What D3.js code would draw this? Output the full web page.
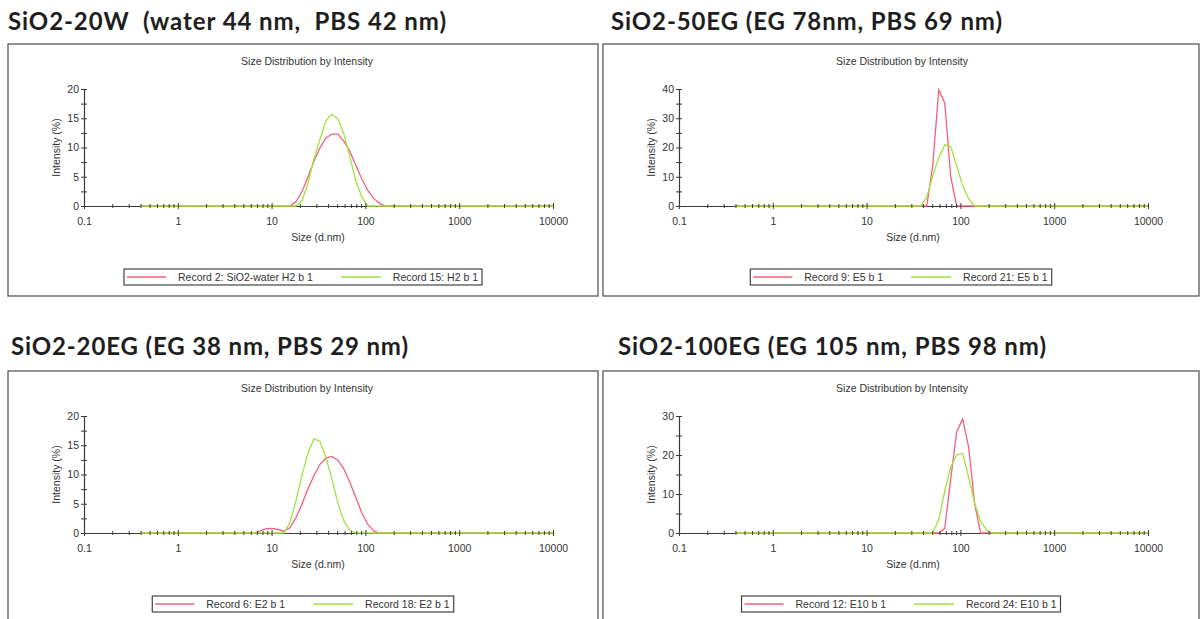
<!DOCTYPE html>
<html>
<head>
<meta charset="utf-8">
<script src="https://cdn.jsdelivr.net/npm/d3@7"></script>
<style>
  html, body { margin: 0; padding: 0; background: #fff; }
  svg { display: block; }
  .title { font-family: Lato, "Open Sans", sans-serif; font-weight: 700; font-size: 24px; fill: #1e1e1e; white-space: pre; }
  .small { font-family: "Liberation Sans", Arial, sans-serif; font-size: 10.5px; fill: #333; }
</style>
</head>
<body>
<svg id="chart" width="1201" height="619"></svg>
<script>
// Zetasizer size classes, d.nm
const sizeBins = [
  0.4, 0.4632, 0.5365, 0.6213, 0.7195, 0.8332, 0.9649, 1.117, 1.294, 1.499,
  1.736, 2.010, 2.328, 2.696, 3.122, 3.615, 4.187, 4.849, 5.615, 6.503,
  7.531, 8.721, 10.10, 11.70, 13.54, 15.69, 18.17, 21.04, 24.36, 28.21,
  32.67, 37.84, 43.82, 50.75, 58.77, 68.06, 78.82, 91.28, 105.7, 122.4,
  141.8, 164.2, 190.1, 220.2, 255.0, 295.3, 342.0, 396.1, 458.7, 531.2,
  615.1, 712.4, 825.0, 955.4, 1106, 1281, 1484, 1718, 1990, 2305,
  2669, 3091, 3580, 4145, 4801, 5560, 6439, 7456, 8635, 10000
];

// Intensity (%) in each size class
const record2 = [
  0, 0, 0, 0, 0, 0, 0, 0, 0, 0,
  0, 0, 0, 0, 0, 0, 0, 0, 0, 0,
  0, 0, 0, 0, 0, 0, 0.7, 2.4, 4.9, 7.6,
  9.9, 11.6, 12.3, 12.3, 11.1, 9.4, 7.0, 4.7, 2.7, 1.3,
  0.45, 0, 0, 0, 0, 0, 0, 0, 0, 0,
  0, 0, 0, 0, 0, 0, 0, 0, 0, 0,
  0, 0, 0, 0, 0, 0, 0, 0, 0, 0
];
const record15 = [
  0, 0, 0, 0, 0, 0, 0, 0, 0, 0,
  0, 0, 0, 0, 0, 0, 0, 0, 0, 0,
  0, 0, 0, 0, 0, 0, 0, 0.8, 3.8, 8.0,
  11.3, 14.5, 15.7, 14.9, 12.4, 8.5, 4.4, 1.6, 0, 0,
  0, 0, 0, 0, 0, 0, 0, 0, 0, 0,
  0, 0, 0, 0, 0, 0, 0, 0, 0, 0,
  0, 0, 0, 0, 0, 0, 0, 0, 0, 0
];
const record9 = [
  0, 0, 0, 0, 0, 0, 0, 0, 0, 0,
  0, 0, 0, 0, 0, 0, 0, 0, 0, 0,
  0, 0, 0, 0, 0, 0, 0, 0, 0, 0,
  0, 0, 0, 14.0, 39.7, 35.2, 10.0, 0, 0, 0,
  0, 0, 0, 0, 0, 0, 0, 0, 0, 0,
  0, 0, 0, 0, 0, 0, 0, 0, 0, 0,
  0, 0, 0, 0, 0, 0, 0, 0, 0, 0
];
const record21 = [
  0, 0, 0, 0, 0, 0, 0, 0, 0, 0,
  0, 0, 0, 0, 0, 0, 0, 0, 0, 0,
  0, 0, 0, 0, 0, 0, 0, 0, 0, 0,
  0, 0, 3.0, 10.4, 16.6, 20.9, 20.3, 13.8, 6.9, 2.4,
  0, 0, 0, 0, 0, 0, 0, 0, 0, 0,
  0, 0, 0, 0, 0, 0, 0, 0, 0, 0,
  0, 0, 0, 0, 0, 0, 0, 0, 0, 0
];
const record6 = [
  0, 0, 0, 0, 0, 0, 0, 0, 0, 0,
  0, 0, 0, 0, 0, 0, 0, 0, 0, 0,
  0.35, 0.75, 0.8, 0.6, 0.3, 0.9, 2.6, 4.9, 7.5, 9.8,
  11.7, 12.8, 13.1, 12.5, 11.0, 8.7, 6.1, 3.5, 1.5, 0.35,
  0, 0, 0, 0, 0, 0, 0, 0, 0, 0,
  0, 0, 0, 0, 0, 0, 0, 0, 0, 0,
  0, 0, 0, 0, 0, 0, 0, 0, 0, 0
];
const record18 = [
  0, 0, 0, 0, 0, 0, 0, 0, 0, 0,
  0, 0, 0, 0, 0, 0, 0, 0, 0, 0,
  0, 0, 0, 0, 0, 1.8, 5.5, 9.8, 13.6, 16.1,
  15.7, 13.0, 9.3, 5.2, 2.1, 0.5, 0, 0, 0, 0,
  0, 0, 0, 0, 0, 0, 0, 0, 0, 0,
  0, 0, 0, 0, 0, 0, 0, 0, 0, 0,
  0, 0, 0, 0, 0, 0, 0, 0, 0, 0
];
const record12 = [
  0, 0, 0, 0, 0, 0, 0, 0, 0, 0,
  0, 0, 0, 0, 0, 0, 0, 0, 0, 0,
  0, 0, 0, 0, 0, 0, 0, 0, 0, 0,
  0, 0, 0, 0, 0, 1.2, 13.8, 26.0, 29.2, 22.0,
  7.5, 0, 0, 0, 0, 0, 0, 0, 0, 0,
  0, 0, 0, 0, 0, 0, 0, 0, 0, 0,
  0, 0, 0, 0, 0, 0, 0, 0, 0, 0
];
const record24 = [
  0, 0, 0, 0, 0, 0, 0, 0, 0, 0,
  0, 0, 0, 0, 0, 0, 0, 0, 0, 0,
  0, 0, 0, 0, 0, 0, 0, 0, 0, 0,
  0, 0, 0, 0, 3.4, 10.8, 16.9, 20.0, 20.4, 14.3,
  7.7, 3.0, 0.8, 0, 0, 0, 0, 0, 0, 0,
  0, 0, 0, 0, 0, 0, 0, 0, 0, 0,
  0, 0, 0, 0, 0, 0, 0, 0, 0, 0
];

const panelTitles = [
  "SiO2-20W  (water 44 nm,  PBS 42 nm)",
  "SiO2-50EG (EG 78nm, PBS 69 nm)",
  "SiO2-20EG (EG 38 nm, PBS 29 nm)",
  "SiO2-100EG (EG 105 nm, PBS 98 nm)"
];
const redLabels = ["Record 2: SiO2-water H2 b 1", "Record 9: E5 b 1", "Record 6: E2 b 1", "Record 12: E10 b 1"];
const greenLabels = ["Record 15: H2 b 1", "Record 21: E5 b 1", "Record 18: E2 b 1", "Record 24: E10 b 1"];
const redSeries = [record2, record9, record6, record12];
const greenSeries = [record15, record21, record18, record24];
const yMaxima = [20, 40, 20, 30];
const yLabelSteps = [5, 10, 5, 10];
const xTickValues = [0.1, 1, 10, 100, 1000, 10000];
const chartTitle = "Size Distribution by Intensity";
const xAxisTitle = "Size (d.nm)";
const yAxisTitle = "Intensity (%)";

const RED = "#f0607c";
const GREEN = "#a3e13d";
const AXIS = "#3a3a3a";

// layout of the four boxes
const layouts = [
  { left: 8,   top: 44,  width: 590, height: 252, titleX: 8,   titleY: 30,  titleW: 438 },
  { left: 603, top: 44,  width: 596, height: 252, titleX: 611, titleY: 30,  titleW: 391 },
  { left: 8,   top: 371, width: 590, height: 300, titleX: 11,  titleY: 355, titleW: 397 },
  { left: 603, top: 371, width: 596, height: 300, titleX: 618, titleY: 355, titleW: 428 }
];

const svg = d3.select("#chart");

// minor log ticks, 2..9 in every decade
const xMinor = [];
[0.1, 1, 10, 100, 1000].forEach(d => { for (let m = 2; m <= 9; m++) xMinor.push(+(d * m).toPrecision(3)); });

layouts.forEach((L, i) => {
  const g = svg.append("g");

  // heading above the box
  g.append("text").attr("class", "title")
    .attr("x", L.titleX).attr("y", L.titleY)
    .attr("textLength", L.titleW).attr("lengthAdjust", "spacing")
    .text(panelTitles[i]);

  // frame
  g.append("rect")
    .attr("x", L.left).attr("y", L.top)
    .attr("width", L.width).attr("height", L.height)
    .attr("fill", "none").attr("stroke", "#5a5a5a").attr("stroke-width", 1.3);

  const plotLeft = L.left + 76;
  const plotRight = plotLeft + 469;
  const yTop = L.top + 45;
  const yZero = L.top + 162;

  const x = d3.scaleLog().domain([0.1, 10000]).range([plotLeft, plotRight]);
  const y = d3.scaleLinear().domain([0, yMaxima[i]]).range([yZero, yTop]);

  // chart heading
  g.append("text").attr("class", "small")
    .attr("x", plotLeft + 223).attr("y", L.top + 20.5)
    .attr("text-anchor", "middle").text(chartTitle);

  // y axis with ticks crossing the line
  const step = yLabelSteps[i];
  const yTicks = d3.range(0, yMaxima[i] + 0.001, step / 2);
  const yLeft = g.append("g").attr("transform", `translate(${plotLeft},0)`)
    .call(d3.axisLeft(y).tickValues(yTicks).tickSizeInner(3).tickSizeOuter(0).tickPadding(2)
      .tickFormat(d => (Math.abs(d / step - Math.round(d / step)) < 1e-6 ? d : "")));
  yLeft.select(".domain").attr("stroke", AXIS).attr("stroke-width", 1.2);
  yLeft.selectAll(".tick line").attr("stroke", AXIS);
  yLeft.selectAll(".tick text").attr("class", "small").attr("fill", "#333");
  const yRight = g.append("g").attr("transform", `translate(${plotLeft},0)`)
    .call(d3.axisRight(y).tickValues(yTicks).tickSizeInner(3).tickSizeOuter(0).tickFormat(""));
  yRight.select(".domain").remove();
  yRight.selectAll(".tick line").attr("stroke", AXIS);

  // y axis title
  g.append("text").attr("class", "small")
    .attr("transform", `translate(${plotLeft - 24},${(yTop + yZero) / 2}) rotate(-90)`)
    .attr("text-anchor", "middle").text(yAxisTitle);

  // x axis base line and decade labels
  const xBase = g.append("g").attr("transform", `translate(0,${yZero})`)
    .call(d3.axisBottom(x).tickValues(xTickValues).tickSizeInner(0).tickSizeOuter(0).tickPadding(12)
      .tickFormat(d => String(d)));
  xBase.select(".domain").attr("stroke", AXIS).attr("stroke-width", 1.2);
  xBase.selectAll(".tick text").attr("class", "small").attr("fill", "#333");

  // x axis title
  g.append("text").attr("class", "small")
    .attr("x", plotLeft + 234).attr("y", yZero + 35)
    .attr("text-anchor", "middle").text(xAxisTitle);

  // distributions
  const line = d3.line().x(d => x(d[0])).y(d => y(d[1]));
  g.append("path").datum(d3.zip(sizeBins, redSeries[i]))
    .attr("d", line).attr("fill", "none").attr("stroke", RED).attr("stroke-width", 1.3);
  g.append("path").datum(d3.zip(sizeBins, greenSeries[i]))
    .attr("d", line).attr("fill", "none").attr("stroke", GREEN).attr("stroke-width", 1.3);

  // tick marks drawn over the traces
  [[xMinor, 2], [xTickValues, 3]].forEach(([vals, len]) => {
    const down = g.append("g").attr("transform", `translate(0,${yZero})`)
      .call(d3.axisBottom(x).tickValues(vals).tickSizeInner(len).tickSizeOuter(0).tickFormat(""));
    down.select(".domain").remove();
    down.selectAll(".tick line").attr("stroke", AXIS);
    const up = g.append("g").attr("transform", `translate(0,${yZero})`)
      .call(d3.axisTop(x).tickValues(vals).tickSizeInner(len).tickSizeOuter(0).tickFormat(""));
    up.select(".domain").remove();
    up.selectAll(".tick line").attr("stroke", AXIS);
  });

  // legend, centred in the box
  const lg = g.append("g");
  const legTop = L.top + 225;
  const t1 = lg.append("text").attr("class", "small").attr("y", legTop + 12).text(redLabels[i]);
  const t2 = lg.append("text").attr("class", "small").attr("y", legTop + 12).text(greenLabels[i]);
  const w1 = t1.node().getComputedTextLength();
  const w2 = t2.node().getComputedTextLength();
  const total = 3 + 39 + 12 + w1 + 28 + 40 + 12 + w2 + 4;
  const lx = L.left + L.width / 2 - total / 2;
  lg.insert("rect", "text")
    .attr("x", lx).attr("y", legTop).attr("width", total).attr("height", 16)
    .attr("fill", "#fff").attr("stroke", "#444").attr("stroke-width", 1.2);
  lg.append("line").attr("x1", lx + 3).attr("x2", lx + 42)
    .attr("y1", legTop + 8).attr("y2", legTop + 8).attr("stroke", RED).attr("stroke-width", 1.3);
  t1.attr("x", lx + 54);
  const gx = lx + 54 + w1 + 28;
  lg.append("line").attr("x1", gx).attr("x2", gx + 40)
    .attr("y1", legTop + 8).attr("y2", legTop + 8).attr("stroke", GREEN).attr("stroke-width", 1.3);
  t2.attr("x", gx + 52);
});
</script>
</body>
</html>
